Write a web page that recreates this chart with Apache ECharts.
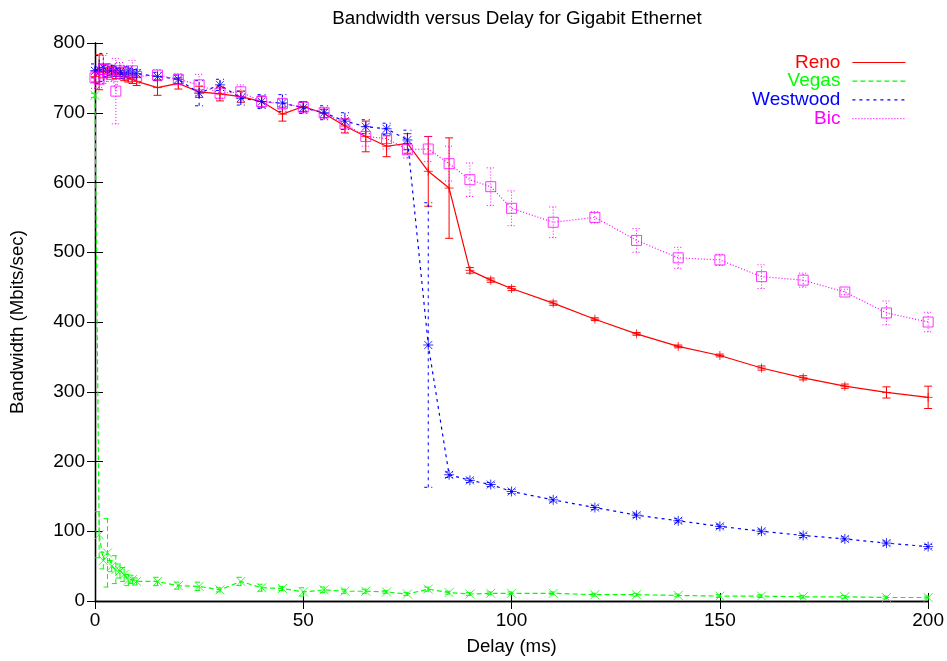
<!DOCTYPE html>
<html lang="en">
<head>
<meta charset="utf-8">
<title>Bandwidth versus Delay</title>
<script src="https://cdn.jsdelivr.net/npm/echarts@6/dist/echarts.min.js"></script>
<style>
  html, body { margin: 0; padding: 0; background: #fff; }
  #chart { width: 947px; height: 661px; }
</style>
</head>
<body>
<div id="chart"></div>
<script>
// delay values (ms)
var delays = [0, 1, 2, 3, 4, 5, 6, 7, 8, 9, 10, 15, 20, 25, 30, 35, 40, 45, 50, 55, 60, 65, 70, 75, 80, 85, 90, 95, 100, 110, 120, 130, 140, 150, 160, 170, 180, 190, 200];

// bandwidth (Mbits/sec) and error half-widths
var reno = [752, 758, 760, 757, 760, 755, 758, 752, 750, 748, 745, 736, 742, 730, 727, 723, 716, 698, 709, 699, 681, 666, 652, 656, 616, 592, 474, 460, 448, 427, 404, 383, 365, 352, 334, 320, 308, 299, 292];
var renoErr = [8, 25, 10, 6, 6, 6, 6, 6, 6, 6, 6, 11, 8, 8, 10, 8, 8, 10, 7, 6, 10, 22, 15, 14, 50, 72, 4, 3, 3, 3, 2, 2, 2, 2, 3, 3, 3, 8, 16];

var vegas = [725, 95, 58, 69, 50, 45, 43, 38, 30, 31, 28, 28, 22, 21, 16, 28, 19, 18, 13, 16, 14, 14, 13, 10, 17, 12, 10, 11, 11, 11, 9, 9, 8, 7, 7, 6, 6, 5, 5];
var vegasErr = [3, 33, 12, 49, 8, 20, 10, 10, 8, 6, 5, 6, 5, 6, 3, 6, 5, 3, 6, 4, 3, 3, 2, 2, 3, 2, 2, 2, 2, 2, 2, 2, 2, 2, 2, 2, 2, 2, 2];

var westwood = [760, 762, 765, 760, 762, 760, 758, 755, 760, 757, 756, 752, 748, 728, 740, 721, 716, 714, 707, 700, 688, 680, 677, 661, 367, 181, 173, 167, 157, 145, 134, 123, 115, 107, 100, 94, 89, 83, 78];
var westwoodErr = [10, 20, 20, 8, 8, 8, 6, 6, 6, 6, 6, 6, 6, 18, 8, 10, 10, 12, 8, 10, 12, 10, 8, 14, 204, 4, 3, 3, 3, 3, 3, 3, 3, 3, 3, 3, 3, 3, 3];

var bic = [750, 748, 762, 758, 755, 731, 760, 758, 755, 760, 752, 754, 748, 740, 728, 730, 716, 713, 708, 700, 684, 666, 663, 647, 648, 627, 604, 594, 563, 543, 550, 517, 492, 489, 465, 460, 443, 413, 400];
var bicErr = [15, 12, 20, 10, 10, 47, 12, 10, 10, 15, 10, 8, 8, 15, 8, 10, 8, 8, 8, 8, 12, 14, 15, 12, 18, 25, 24, 27, 25, 22, 8, 17, 15, 8, 17, 10, 4, 17, 14];

var xTicks = [0, 50, 100, 150, 200];
var yTicks = [0, 100, 200, 300, 400, 500, 600, 700, 800];

var FONT = 'Liberation Sans';

var chart = echarts.init(document.getElementById('chart'));

function pairs(vals) {
    return delays.map(function (d, i) { return [d, vals[i]]; });
}
function bars(vals, errs) {
    return delays.map(function (d, i) { return [d, vals[i] - errs[i], vals[i] + errs[i]]; });
}

// error bars with small caps
function errorSeries(vals, errs, color, dash) {
    return {
        type: 'custom',
        silent: true,
        z: 3,
        data: bars(vals, errs),
        renderItem: function (params, api) {
            var lo = api.coord([api.value(0), api.value(1)]);
            var hi = api.coord([api.value(0), api.value(2)]);
            var w = 4;
            var st = { stroke: color, lineWidth: 1, lineDash: dash, fill: null };
            return {
                type: 'group',
                children: [
                    { type: 'line', shape: { x1: lo[0], y1: lo[1], x2: hi[0], y2: hi[1] }, style: st },
                    { type: 'line', shape: { x1: lo[0] - w, y1: lo[1], x2: lo[0] + w, y2: lo[1] }, style: st },
                    { type: 'line', shape: { x1: hi[0] - w, y1: hi[1], x2: hi[0] + w, y2: hi[1] }, style: st }
                ]
            };
        }
    };
}

function lineSeries(name, vals, color, dash) {
    return {
        name: name,
        type: 'line',
        data: pairs(vals),
        symbol: 'none',
        z: 3,
        lineStyle: { color: color, width: 1.2, type: dash || 'solid' },
        itemStyle: { color: color }
    };
}

function markSeries(name, vals, color, symbol, size) {
    return {
        name: name,
        type: 'scatter',
        data: pairs(vals),
        symbol: symbol,
        symbolSize: size,
        z: 4,
        itemStyle: { color: 'none', borderColor: color, borderWidth: 1 }
    };
}

function legendItem(name, color, dash) {
    return {
        name: name,
        textStyle: { color: color },
        itemStyle: { opacity: 0 },
        lineStyle: { color: color, width: 1.2, type: dash || 'solid', opacity: 1 }
    };
}

var plusPath = 'path://M0,5L10,5M5,0L5,10';
var crossPath = 'path://M0,0L10,10M0,10L10,0';
var starPath = 'path://M0,5L10,5M5,0L5,10M1,1L9,9M1,9L9,1';

var series = [
    errorSeries(reno, renoErr, '#ff0000', null),
    lineSeries('Reno', reno, '#ff0000'),
    markSeries('Reno marks', reno, '#ff0000', plusPath, 9),

    errorSeries(vegas, vegasErr, '#00ff00', [5, 3]),
    lineSeries('Vegas', vegas, '#00ff00', [5, 3]),
    markSeries('Vegas marks', vegas, '#00ff00', crossPath, 9),

    errorSeries(westwood, westwoodErr, '#0000ff', [3, 4]),
    lineSeries('Westwood', westwood, '#0000ff', [3, 4]),
    markSeries('Westwood marks', westwood, '#0000ff', starPath, 10),

    errorSeries(bic, bicErr, '#ff00ff', [1, 2]),
    lineSeries('Bic', bic, '#ff00ff', [1, 2]),
    markSeries('Bic marks', bic, '#ff00ff', 'rect', 10)
];

var axisCommon = {
    axisLine: { show: true, lineStyle: { color: '#000', width: 1.3 } },
    axisTick: { show: true, inside: true, length: 8, lineStyle: { color: '#000', width: 1 } },
    splitLine: { show: false }
};

option = {
    animation: false,
    backgroundColor: '#fff',
    textStyle: { fontFamily: FONT },
    title: {
        text: 'Bandwidth versus Delay for Gigabit Ethernet',
        left: 512,
        top: 4,
        textAlign: 'center',
        textStyle: { fontFamily: FONT, fontSize: 18.8, fontWeight: 'normal', color: '#000' }
    },
    legend: {
        orient: 'vertical',
        align: 'right',
        right: 36,
        top: 48,
        itemWidth: 53,
        itemHeight: 10,
        itemGap: -0.3,
        selectedMode: false,
        textStyle: { fontFamily: FONT, fontSize: 19, padding: [0, 7, 0, 0] },
        data: [
            legendItem('Reno', '#ff0000'),
            legendItem('Vegas', '#00ff00', [5, 3]),
            legendItem('Westwood', '#0000ff', [3, 4]),
            legendItem('Bic', '#ff00ff', [1, 2])
        ]
    },
    grid: { left: 94, right: 17, top: 43, bottom: 58 },
    xAxis: [
        Object.assign({
            type: 'value', min: 0, max: 200, interval: 50, position: 'bottom',
            name: 'Delay (ms)', nameLocation: 'middle', nameGap: 36,
            nameTextStyle: { fontFamily: FONT, fontSize: 18.7, color: '#000' },
            axisLabel: {
                fontFamily: FONT, fontSize: 19, color: '#000', margin: 10,
                formatter: function (v) { return xTicks.indexOf(v) >= 0 ? String(v) : ''; }
            }
        }, axisCommon),
        Object.assign({
            type: 'value', min: 0, max: 200, interval: 50, position: 'top',
            axisLabel: { show: false }
        }, axisCommon)
    ],
    yAxis: [
        Object.assign({
            type: 'value', min: 0, max: 800, interval: 100, position: 'left',
            name: 'Bandwidth (Mbits/sec)', nameLocation: 'middle', nameGap: 68,
            nameTextStyle: { fontFamily: FONT, fontSize: 18.7, color: '#000' },
            axisLabel: {
                fontFamily: FONT, fontSize: 19, color: '#000', margin: 10,
                formatter: function (v) { return yTicks.indexOf(v) >= 0 ? String(v) : ''; }
            }
        }, axisCommon),
        Object.assign({
            type: 'value', min: 0, max: 800, interval: 100, position: 'right',
            axisLabel: { show: false }
        }, axisCommon)
    ],
    series: series
};

chart.setOption(option);
</script>
</body>
</html>
